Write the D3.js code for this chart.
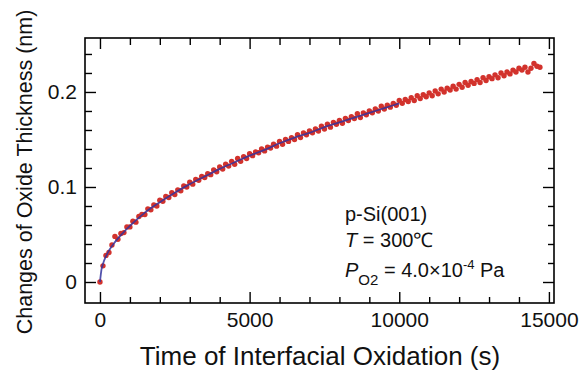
<!DOCTYPE html>
<html>
<head>
<meta charset="utf-8">
<script src="https://cdn.jsdelivr.net/npm/d3@7"></script>
<style>
  body { margin: 0; background: #fff; }
  svg { display: block; font-family: "Liberation Sans", Arial, sans-serif; }
</style>
</head>
<body>
<div id="chart"></div>
<script>
// measured red points (time s, thickness nm)
const redTime = [0,100,200,300,400,500,600,700,800,900,1000,1100,1200,1300,1400,1500,1600,1700,1800,1900,
  2000,2100,2200,2300,2400,2500,2600,2700,2800,2900,3000,3100,3200,3300,3400,3500,3600,3700,3800,3900,
  4000,4100,4200,4300,4400,4500,4600,4700,4800,4900,5000,5100,5200,5300,5400,5500,5600,5700,5800,5900,
  6000,6100,6200,6300,6400,6500,6600,6700,6800,6900,7000,7100,7200,7300,7400,7500,7600,7700,7800,7900,
  8000,8100,8200,8300,8400,8500,8600,8700,8800,8900,9000,9100,9200,9300,9400,9500,9600,9700,9800,9900,
  10000,10100,10200,10300,10400,10500,10600,10700,10800,10900,11000,11100,11200,11300,11400,11500,11600,11700,11800,11900,
  12000,12100,12200,12300,12400,12500,12600,12700,12800,12900,13000,13100,13200,13300,13400,13500,13600,13700,13800,13900,
  14000,14100,14200,14300,14400,14500,14600,14700];
const redThick = [0.000,0.017,0.028,0.031,0.039,0.048,0.045,0.051,0.052,0.058,0.058,0.064,0.063,0.069,0.071,0.071,0.077,0.076,0.081,0.080,
  0.086,0.085,0.090,0.089,0.094,0.092,0.097,0.096,0.101,0.100,0.105,0.103,0.108,0.107,0.111,0.110,0.114,0.113,0.118,0.116,
  0.121,0.119,0.124,0.122,0.127,0.124,0.130,0.127,0.132,0.130,0.135,0.133,0.137,0.136,0.140,0.138,0.142,0.141,0.145,0.143,
  0.148,0.145,0.150,0.148,0.152,0.150,0.155,0.152,0.157,0.155,0.159,0.157,0.161,0.159,0.164,0.161,0.166,0.163,0.168,0.166,
  0.170,0.167,0.172,0.170,0.174,0.172,0.177,0.173,0.178,0.176,0.180,0.178,0.182,0.180,0.185,0.182,0.186,0.184,0.188,0.186,
  0.191,0.188,0.192,0.190,0.194,0.191,0.196,0.193,0.197,0.195,0.199,0.196,0.201,0.198,0.203,0.200,0.204,0.202,0.206,0.203,
  0.208,0.205,0.210,0.207,0.211,0.209,0.213,0.210,0.215,0.212,0.216,0.214,0.218,0.215,0.220,0.217,0.221,0.219,0.223,0.221,
  0.225,0.223,0.226,0.221,0.225,0.230,0.227,0.226];

// fitted curve (blue)
const fitTime = [0,50,100,200,300,500,750,1000,1500,2000,2500,3000,3500,4000,4500,5000,5500,6000,6500,7000,7500,8000,8500,9000,9500,10000];
const fitThick = [0,0.013,0.019,0.027,0.033,0.042,0.051,0.059,0.073,0.084,0.094,0.103,0.111,0.119,0.126,0.133,0.139,0.146,0.152,0.157,0.163,0.168,0.173,0.178,0.183,0.188];

const xMajor = [0, 5000, 10000, 15000];
const xMinor = [1000,2000,3000,4000,6000,7000,8000,9000,11000,12000,13000,14000];
const yMajor = [0, 0.1, 0.2];
const yMinor = [0.02,0.04,0.06,0.08,0.12,0.14,0.16,0.18,0.22,0.24];

const MARGIN = {top: 38, right: 33, bottom: 70, left: 85},
WIDTH = 587 - MARGIN.left - MARGIN.right,
HEIGHT = 373 - MARGIN.top - MARGIN.bottom;

var x = d3.scaleLinear().domain([-500, 15170]).range([0, WIDTH]);
var y = d3.scaleLinear().domain([-0.0221, 0.2568]).range([HEIGHT, 0]);

const svg = d3.select('#chart')
    .append('svg')
    .attr('width', 587)
    .attr('height', 373);

const g = svg.append('g')
    .attr('transform', `translate(${MARGIN.left},${MARGIN.top})`);

// data
const red = redTime.map((t, i) => ({t: t, v: redThick[i]}));
const fit = fitTime.map((t, i) => ({t: t, v: fitThick[i]}));

g.selectAll('.red_pt')
    .data(red)
    .enter()
    .append('circle')
    .classed('red_pt', true)
    .attr('cx', d => x(d.t))
    .attr('cy', d => y(d.v))
    .attr('r', 2.7)
    .attr('fill', '#d2322c');

g.append('path')
    .datum(fit)
    .attr('fill', 'none')
    .attr('stroke', '#34349e')
    .attr('stroke-width', 1.8)
    .attr('stroke-opacity', 0.85)
    .attr('d', d3.line().curve(d3.curveMonotoneX).x(d => x(d.t)).y(d => y(d.v)));

// axes, ticks pointing inward
const axisStyle = sel => {
    sel.select('.domain').remove();
    sel.selectAll('line').attr('stroke', '#000').attr('stroke-width', 1.4);
    sel.selectAll('text').attr('fill', '#111').style('font-size', '21px');
};

g.append('g').attr('transform', `translate(0,${HEIGHT})`)
    .call(d3.axisBottom(x).tickValues(xMajor).tickSize(-11).tickPadding(9).tickFormat(d3.format('d')))
    .call(axisStyle);
g.append('g').attr('transform', `translate(0,${HEIGHT})`)
    .call(d3.axisBottom(x).tickValues(xMinor).tickSize(-6).tickFormat(''))
    .call(axisStyle);
g.append('g')
    .call(d3.axisTop(x).tickValues(xMajor).tickSize(-11).tickFormat(''))
    .call(axisStyle);
g.append('g')
    .call(d3.axisTop(x).tickValues(xMinor).tickSize(-7).tickFormat(''))
    .call(axisStyle);

g.append('g')
    .call(d3.axisLeft(y).tickValues(yMajor).tickSize(-11).tickPadding(8).tickFormat(d => d === 0 ? '0' : d3.format('.1f')(d)))
    .call(axisStyle);
g.append('g')
    .call(d3.axisLeft(y).tickValues(yMinor).tickSize(-7).tickFormat(''))
    .call(axisStyle);
g.append('g').attr('transform', `translate(${WIDTH},0)`)
    .call(d3.axisRight(y).tickValues(yMajor).tickSize(-11).tickFormat(''))
    .call(axisStyle);
g.append('g').attr('transform', `translate(${WIDTH},0)`)
    .call(d3.axisRight(y).tickValues(yMinor).tickSize(-6).tickFormat(''))
    .call(axisStyle);

g.append('rect')
    .attr('width', WIDTH)
    .attr('height', HEIGHT)
    .attr('fill', 'none')
    .attr('stroke', '#000')
    .attr('stroke-width', 1.6);

// titles
svg.append('text')
    .attr('x', 320)
    .attr('y', 365)
    .attr('text-anchor', 'middle')
    .style('font-size', '26px')
    .attr('fill', '#111')
    .text('Time of Interfacial Oxidation (s)');

svg.append('text')
    .attr('transform', 'translate(32,172) rotate(-90)')
    .attr('text-anchor', 'middle')
    .style('font-size', '21.5px')
    .attr('fill', '#111')
    .text('Changes of Oxide Thickness (nm)');

// annotation
const note = svg.append('g').attr('fill', '#111').style('font-size', '20px');
note.append('text').attr('x', 345).attr('y', 221).text('p-Si(001)');
const t2 = note.append('text').attr('x', 345).attr('y', 247);
t2.append('tspan').style('font-style', 'italic').text('T');
t2.append('tspan').text(' = 300℃');
const t3 = note.append('text').attr('x', 345).attr('y', 277);
t3.append('tspan').style('font-style', 'italic').text('P');
t3.append('tspan').attr('dy', 8).style('font-size', '15px').text('O2');
t3.append('tspan').attr('dy', -8).text(' = 4.0×10');
t3.append('tspan').attr('dy', -8).style('font-size', '13px').text('-4');
t3.append('tspan').attr('dy', 8).text(' Pa');
</script>
</body>
</html>
